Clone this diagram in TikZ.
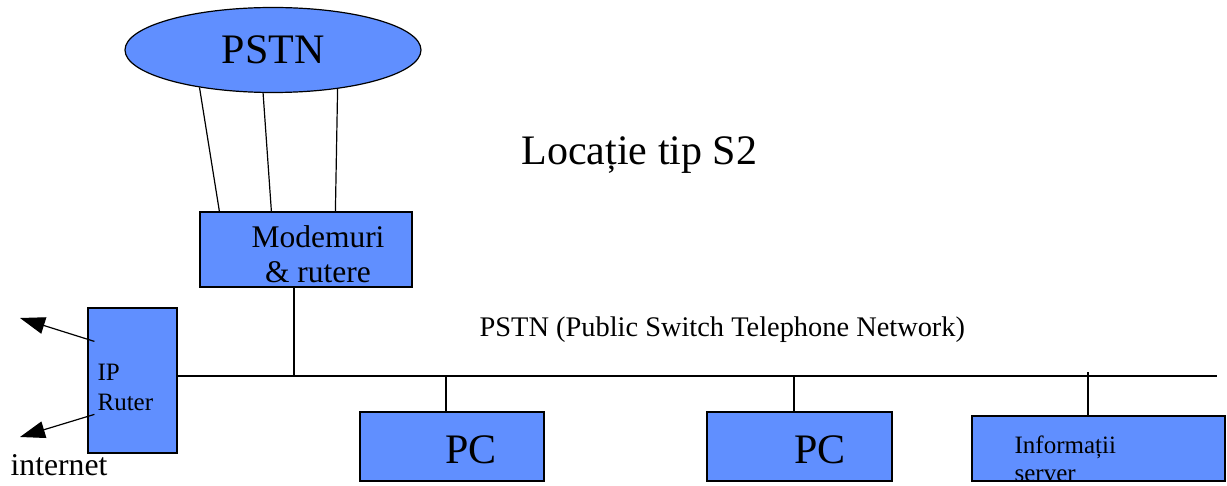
\documentclass[tikz,border=0pt]{standalone}
\usepackage{fontspec}
\setmainfont{Liberation Serif}
\usetikzlibrary{arrows.meta,calc,shapes.geometric}
\definecolor{netblue}{RGB}{96,143,255}
\newcommand\fsz[2]{\fontsize{#1pt}{#2pt}\selectfont}
\tikzset{
  box/.style={draw, fill=netblue, line width=1.2pt, inner sep=0pt},
  txt/.style={inner sep=0pt},
}

\begin{document}
\begin{tikzpicture}[x=1pt, y=-1pt, line width=1.2pt, >={Triangle[length=25pt,width=17pt]}]
			\useasboundingbox (0,0) rectangle (1227,486);
			% boxes
			\node[box, ellipse, minimum width=296pt, minimum height=85pt, font=\fsz{42}{50}] (pstn) at (273,50) {PSTN};
			\node[box, minimum width=212pt, minimum height=75pt] (modem) at (306,249.5) {};
			\node[box, minimum width=89pt, minimum height=145pt] (ipr) at (132.5,380.5) {};
			\node[box, minimum width=184pt, minimum height=69pt] (pc1) at (452,446.5) {};
			\node[box, minimum width=185pt, minimum height=69pt] (pc2) at (799.5,446.5) {};
			\node[box, minimum width=253pt, minimum height=65pt] (srv) at (1098.5,448.5) {};
			% texts
			\node[txt, font=\fsz{42}{50}, anchor=base west] (title) at (521,165) {Locație tip S2};
			\node[txt, font=\fsz{28.4}{34}, anchor=base west] (buslbl) at (479,337) {PSTN (Public Switch Telephone Network)};
			\node[txt, font=\fsz{31.5}{35}, align=center, anchor=north] (modemtxt) at (318,225.5) {Modemuri\\\& rutere};
			\node[txt, font=\fsz{25}{30}, align=left, anchor=north west] (iprtxt) at (97,363.5) {IP\\Ruter};
			\node[txt, font=\fsz{42}{50}, anchor=base] (pc1txt) at (471,463) {PC};
			\node[txt, font=\fsz{42}{50}, anchor=base] (pc2txt) at (820,463) {PC};
			\node[txt, font=\fsz{25}{28}, align=left, anchor=north west] (srvtxt) at (1014,435) {Informații\\server};
			\node[txt, font=\fsz{31.7}{38}, anchor=base west] (nettxt) at (10,475) {internet};
			% lines to the PSTN
			\draw (pstn.207) -- ([xshift=20pt]modem.north west);
			\draw (pstn.257) -- ([xshift=72pt]modem.north west);
			\draw (pstn.329) -- ([xshift=136pt]modem.north west);
			% bus
			\coordinate (bus) at (1217,376);
			\draw (ipr.east |- bus) -- (bus);
			\coordinate (s0) at ([xshift=-12pt]modem.south);
			\coordinate (s1) at ([xshift=-6pt]pc1.north);
			\coordinate (s2) at ([xshift=-5.5pt]pc2.north);
			\coordinate (s3) at ([xshift=-10.5pt]srv.north);
			\draw (s0) -- (s0 |- bus);
			\draw (s1) -- (s1 |- bus);
			\draw (s2) -- (s2 |- bus);
			\draw (s3) -- ($(s3 |- bus)+(0,-4)$);
			% internet
			\coordinate (net1) at (20,318);
			\coordinate (net2) at (20,437);
			\draw[->] ($(ipr.north west)+(7,34)$) -- (net1);
			\draw[->] ($(ipr.north west)+(7,107)$) -- (net2);
		\end{tikzpicture}
\end{document}
